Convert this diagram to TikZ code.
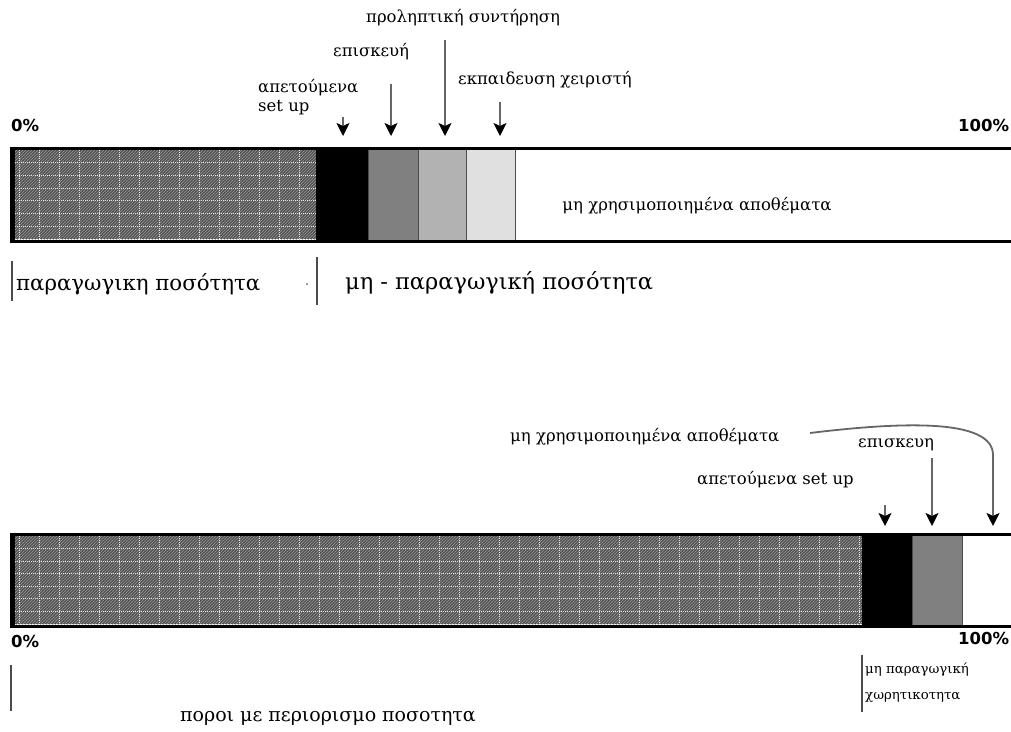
\documentclass[tikz,border=0pt]{standalone}
\usepackage{fontspec}
\setmainfont{DejaVu Serif}
\newfontfamily\pctfont{DejaVu Sans}
\usetikzlibrary{arrows.meta,patterns}

% textured "productive" block: dark hatch with a white dotted grid
\newcommand\prodblock[4]{%
  \fill[black!68] (#1,#2) rectangle (#3,#4);
  \fill[pattern=north east lines, pattern color=black!40] (#1,#2) rectangle (#3,#4);
  \foreach \gx in {19,39,...,#3} {\draw[white!90!black, densely dotted, line width=1pt] (\gx,#2) -- (\gx,#4);}
  \pgfmathsetmacro\rowstep{(#4-#2)/7}
  \foreach \k in {1,...,6} {\draw[white!90!black, densely dotted, line width=1pt] (#1,{#2+\k*\rowstep}) -- (#3,{#2+\k*\rowstep});}
}

\begin{document}
\begin{tikzpicture}[x=1pt,y=-1pt,
  lbl/.style={inner sep=0pt, anchor=west, font=\fontsize{16.5}{19}\selectfont},
  pct/.style={inner sep=0pt, anchor=west, font=\pctfont\bfseries\fontsize{16.5}{18}\selectfont},
  pointer/.style={draw=black!60, line width=1.8pt,
    -{Stealth[length=13pt,width=13pt,inset=3pt,color=black]}},
  divider/.style={draw=black!70, line width=1.6pt},
  frame/.style={draw=black, line width=3pt}]
\useasboundingbox (0,0) rectangle (1011,731);
\clip (0,0) rectangle (1011,731);

% ---------------- upper bar ----------------
\prodblock{13}{150}{316}{239}
\fill[black]     (316,148) rectangle (368,241);
\fill[black!50]  (368,148) rectangle (418,241);
\fill[black!30]  (418,148) rectangle (466,241);
\fill[black!12]  (466,148) rectangle (515,241);
\draw[black!70, line width=1pt] (368,148) -- (368,241) (418,148) -- (418,241)
  (466,148) -- (466,241) (515,148) -- (515,241);
\draw[frame] (1020,148) -- (11.5,148) -- (11.5,241) -- (1020,241);
\draw[black, line width=5pt] (12,146.5) -- (12,242.5);

\node[pct] (z1) at (11,125) {0\%};
\node[pct] (h1) at (958,125) {100\%};

\node[inner sep=0pt, font=\fontsize{16.5}{19}\selectfont] (unused1) at (697,206) {μη χρησιμοποιημένα αποθέματα};

\node[lbl, align=left] (setup1) at (258,97) {απετούμενα\\set up};
\node[lbl] (repair1) at (333,52) {επισκευή};
\node[lbl] (prev1) at (366,18) {προληπτική συντήρηση};
\node[lbl] (train1) at (458,80) {εκπαιδευση χειριστή};

\coordinate (s1a) at (343,117); \coordinate (s1b) at (343,136);
\coordinate (r1a) at (391,84);  \coordinate (r1b) at (391,136);
\coordinate (p1a) at (445,40);  \coordinate (p1b) at (445,136);
\coordinate (t1a) at (500,102); \coordinate (t1b) at (500,136);
\draw[pointer] (s1a) -- (s1b);
\draw[pointer] (r1a) -- (r1b);
\draw[pointer] (p1a) -- (p1b);
\draw[pointer] (t1a) -- (t1b);

\draw[divider] (12,261) -- (12,301);
\node[inner sep=0pt, anchor=west, font=\fontsize{21.3}{24}\selectfont] (prodq) at (16,284) {παραγωγικη ποσότητα};
\fill[black!60] (307,284) circle (1pt);
\draw[divider] (317,257) -- (317,305);
\node[inner sep=0pt, anchor=west, font=\fontsize{22.5}{24}\selectfont] (nonprodq) at (345,283) {μη - παραγωγική ποσότητα};

% ---------------- lower bar ----------------
\prodblock{13}{536}{862}{624}
\fill[black]     (862,534) rectangle (912,626);
\fill[black!50]  (912,534) rectangle (962,626);
\draw[black!70, line width=1pt] (912,534) -- (912,626) (962,534) -- (962,626);
\draw[frame] (1020,534) -- (11.5,534) -- (11.5,626) -- (1020,626);
\draw[black, line width=5pt] (12,532.5) -- (12,627.5);

\node[pct] (z2) at (11,641) {0\%};
\node[pct] (h2) at (958,638) {100\%};

\node[lbl] (unused2) at (510,437) {μη χρησιμοποιημένα αποθέματα};
\node[lbl] (repair2) at (858,445) {επισκευη};
\node[lbl] (setup2) at (697,480) {απετούμενα set up};

\coordinate (s2a) at (885,505); \coordinate (s2b) at (885,526);
\coordinate (r2a) at (932,458); \coordinate (r2b) at (932,526);
\coordinate (u2a) at (810,433); \coordinate (u2b) at (993,526);
\draw[pointer] (s2a) -- (s2b);
\draw[pointer] (r2a) -- (r2b);
\draw[pointer] (u2a) .. controls (900,422) and (993,418) .. (993,455) -- (u2b);

\draw[divider] (11,665) -- (11,711);
\node[inner sep=0pt, anchor=west, font=\fontsize{19}{21}\selectfont] (limited) at (180,718) {ποροι με περιορισμο ποσοτητα};
\draw[divider] (862,655) -- (862,712);
\node[inner sep=0pt, anchor=west, font=\fontsize{13.3}{16}\selectfont] (npc1) at (865,670) {μη παραγωγική};
\node[inner sep=0pt, anchor=west, font=\fontsize{13.3}{16}\selectfont] (npc2) at (865,697) {χωρητικοτητα};
\end{tikzpicture}
\end{document}
